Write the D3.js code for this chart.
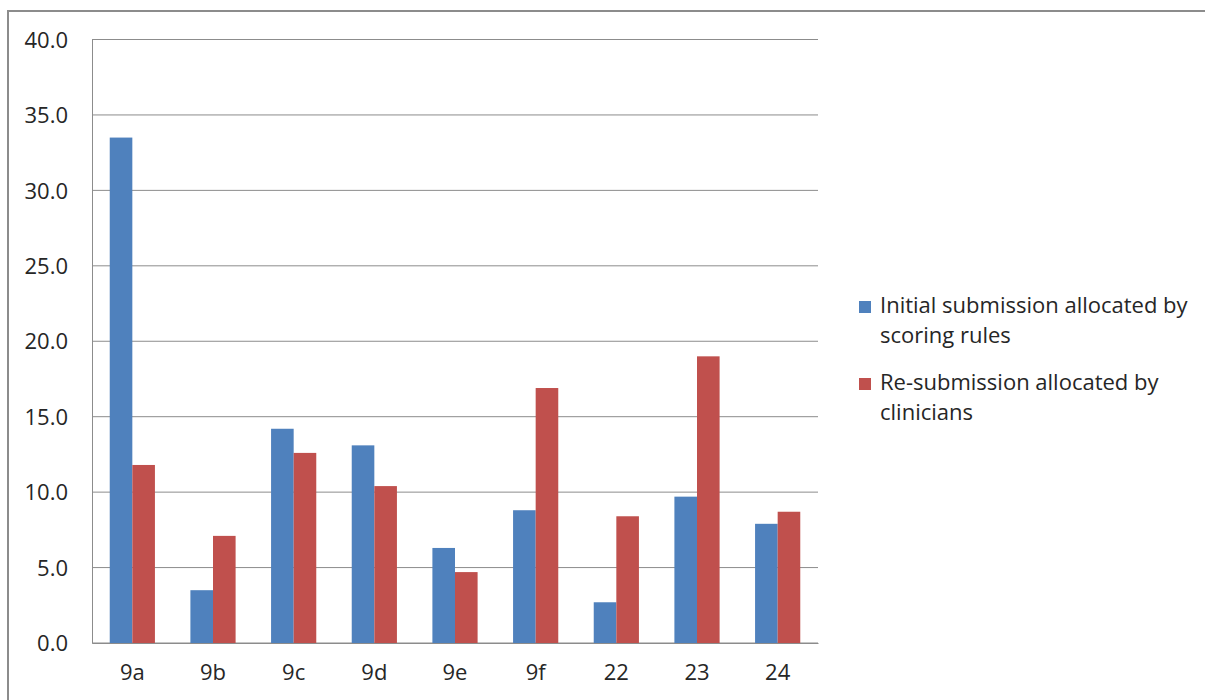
<!DOCTYPE html>
<html>
<head>
<meta charset="utf-8">
<script src="https://cdn.jsdelivr.net/npm/d3@7"></script>
<style>
  body { margin: 0; background: #fff; }
  text { font-family: "Open Sans", "Noto Sans", sans-serif; fill: #262626; }
</style>
</head>
<body>
<div id="chart"></div>
<script>
var width = 1205;
var height = 700;

// categories and series values
var categories = ["9a", "9b", "9c", "9d", "9e", "9f", "22", "23", "24"];
var initialValues = [33.5, 3.5, 14.2, 13.1, 6.3, 8.8, 2.7, 9.7, 7.9];
var resubValues = [11.8, 7.1, 12.6, 10.4, 4.7, 16.9, 8.4, 19.0, 8.7];
var seriesNames = ["Initial submission allocated by scoring rules",
                   "Re-submission allocated by clinicians"];
var yTicks = [0, 5, 10, 15, 20, 25, 30, 35, 40];

var colors = ["#4f81bd", "#c0504d"];

var plot = {left: 92, right: 818, top: 39.5, bottom: 643};

var svg = d3.select('#chart').append('svg')
    .attr('width', width)
    .attr('height', height);

// outer chart border
svg.append('rect')
    .attr('x', 8).attr('y', 11)
    .attr('width', width + 10).attr('height', height + 10)
    .attr('fill', 'none')
    .attr('stroke', '#8c8c8c')
    .attr('stroke-width', 2);

var xScale = d3.scaleBand()
    .domain(categories)
    .range([plot.left, plot.right])
    .paddingInner(0)
    .paddingOuter(0);

var yScale = d3.scaleLinear()
    .domain([0, 40])
    .range([plot.bottom, plot.top]);

// gridlines
svg.append('g')
    .selectAll('line')
    .data(yTicks)
    .enter().append('line')
      .attr('x1', plot.left)
      .attr('x2', plot.right)
      .attr('y1', function(d) { return yScale(d); })
      .attr('y2', function(d) { return yScale(d); })
      .attr('stroke', '#8c8c8c')
      .attr('stroke-width', 1);

// y axis
var yAxis = svg.append('g')
    .attr('transform', 'translate(' + plot.left + ',0)')
    .call(d3.axisLeft(yScale).tickValues(yTicks).tickFormat(d3.format('.1f')).tickSize(0).tickPadding(24));
yAxis.select('.domain').attr('stroke', '#8c8c8c');
yAxis.selectAll('text')
    .style('font-size', '22px')
    .attr('dy', '0.35em');

// bars
var barW = 22.6;
var groupW = barW * 2;
var seriesData = [initialValues, resubValues];

seriesData.forEach(function(vals, s) {
  svg.append('g')
    .selectAll('rect')
    .data(vals)
    .enter().append('rect')
      .attr('x', function(d, i) {
        return xScale(categories[i]) + (xScale.bandwidth() - groupW) / 2 + s * barW;
      })
      .attr('width', barW)
      .attr('y', function(d) { return yScale(d); })
      .attr('height', function(d) { return yScale(0) - yScale(d); })
      .attr('fill', colors[s]);
});

// x axis
var xAxis = svg.append('g')
    .attr('transform', 'translate(0,' + plot.bottom + ')')
    .call(d3.axisBottom(xScale).tickSize(0).tickPadding(21));
xAxis.select('.domain').attr('stroke', '#8c8c8c');
xAxis.selectAll('text')
    .style('font-size', '22px');

// legend
var legendLines = [["Initial submission allocated by", "scoring rules"],
                   ["Re-submission allocated by", "clinicians"]];
var legend = svg.append('g');
legendLines.forEach(function(lines, s) {
  var y0 = 313 + s * 77;
  legend.append('rect')
    .attr('x', 859).attr('y', y0 - 12)
    .attr('width', 12).attr('height', 12)
    .attr('fill', colors[s]);
  lines.forEach(function(t, j) {
    legend.append('text')
      .attr('x', 880)
      .attr('y', y0 + j * 30)
      .style('font-size', '22px')
      .text(t);
  });
});
</script>
</body>
</html>
